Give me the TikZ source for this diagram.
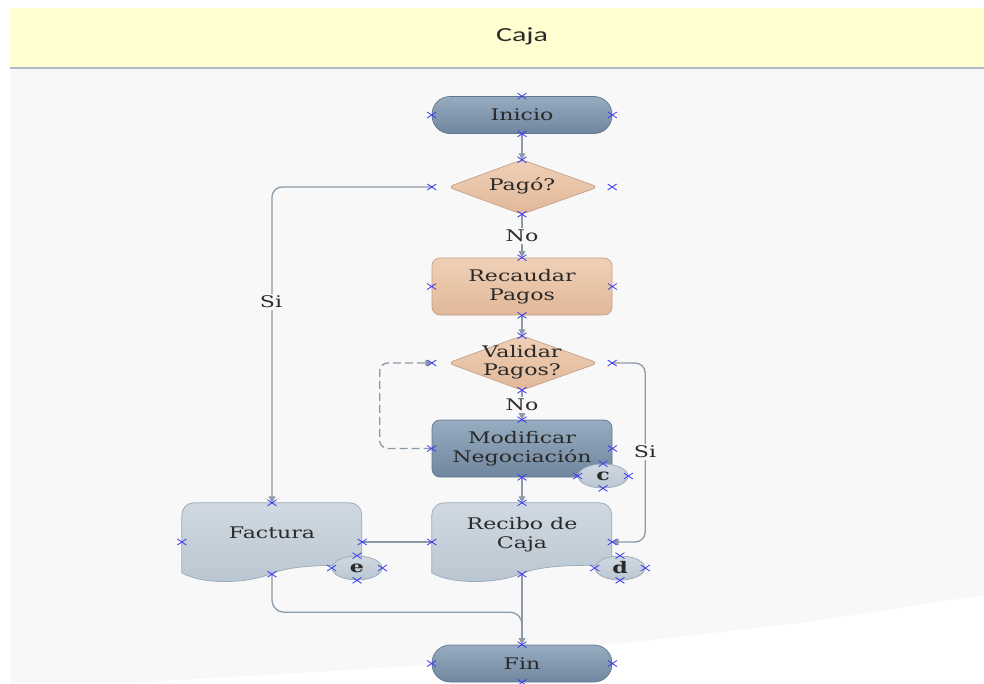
\documentclass[tikz,border=0pt]{standalone}
\usepackage{fontspec}
\usetikzlibrary{arrows.meta,shapes.geometric,calc}
\setmainfont{DejaVu Serif}
\newfontfamily\nf[FakeStretch=1.38]{DejaVu Serif}
\newfontfamily\hf[FakeStretch=1.5]{Carlito}
\definecolor{bggray}{HTML}{F8F8F8}
\definecolor{hdr}{HTML}{FFFFD2}
\definecolor{hdrline}{HTML}{AEB9C3}
\definecolor{txt}{HTML}{2A2A2A}
\definecolor{lnc}{HTML}{8C9AA8}
\definecolor{steelT}{HTML}{97ACC0}
\definecolor{steelD}{HTML}{6F879F}
\definecolor{steelB}{HTML}{5F768D}
\definecolor{peachT}{HTML}{EFD0B7}
\definecolor{peachD}{HTML}{E2B898}
\definecolor{peachB}{HTML}{C4A087}
\definecolor{docT}{HTML}{D0D9E1}
\definecolor{docD}{HTML}{B9C6D1}
\definecolor{docB}{HTML}{99A9B7}
\definecolor{mkc}{HTML}{3A3AF0}
\begin{document}
\begin{tikzpicture}[x=1pt,y=-1pt,
  every node/.style={text=txt},
  nfont/.style={font=\nf\fontsize{16}{18.5}\selectfont},
  term/.style={rectangle, rounded corners=18, minimum width=180, minimum height=37, draw=steelB, top color=steelT, bottom color=steelD, line width=0.7, inner sep=0, nfont},
  steelbox/.style={rectangle, rounded corners=8, minimum width=180, minimum height=57, draw=steelB, top color=steelT, bottom color=steelD, line width=0.7, inner sep=0, align=center, nfont},
  peachbox/.style={rectangle, rounded corners=8, minimum width=180, minimum height=57, draw=peachB, top color=peachT, bottom color=peachD, line width=0.7, inner sep=0, align=center, nfont},
  dbox/.style={rectangle, minimum width=180, minimum height=54, inner sep=0},
  docbox/.style={rectangle, minimum width=180, minimum height=78, inner sep=0},
  dshape/.style={draw=peachB, top color=peachT, bottom color=peachD, line width=0.7, rounded corners=6},
  docshape/.style={draw=docB, top color=docT, bottom color=docD, line width=0.7},
  conn/.style={ellipse, minimum width=50, minimum height=24, inner sep=0, draw=docB, top color=docT, bottom color=docD, line width=0.7, font=\nf\fontsize{16}{18}\selectfont\bfseries},
  lbl/.style={fill=bggray, inner sep=2, nfont},
  wire/.style={draw=lnc, line width=1.3},
  arr/.style={wire, -{Triangle[length=6.5,width=6.5]}},
  mk/.style={draw=mkc, line width=0.8}
]
\useasboundingbox (0,0) rectangle (984,683);
\fill[white] (0,0) rectangle (984,683);
\fill[bggray] (10,69) -- (984,69) -- (984,595) -- (800,623) -- (430,665) -- (130,683) -- (10,683) -- cycle;
\fill[hdr] (10,8) rectangle (984,67);
\draw[hdrline, line width=1.5] (10,68) -- (984,68);
\node[font=\hf\fontsize{20}{22}\selectfont] (title) at (522,36) {Caja};

% nodes
\node[term] (inicio) at (522,115) {Inicio};
\node[dbox] (pago) at (522,187) {};
\draw[dshape] (pago.north) -- ($(pago.west)+(16,0)$) -- (pago.south) -- ($(pago.east)+(-14,0)$) -- cycle;
\node[nfont] at (522,186) {Pagó?};
\node[peachbox] (recaudar) at (522,286.5) {Recaudar\\Pagos};
\node[dbox] (validar) at (522,363) {};
\draw[dshape] (validar.north) -- ($(validar.west)+(16,0)$) -- (validar.south) -- ($(validar.east)+(-14,0)$) -- cycle;
\node[nfont, align=center] at (522,362) {Validar\\Pagos?};
\node[steelbox] (modificar) at (522,448.5) {Modificar\\Negociación};
\node[conn] (c) at (603,476) {c};

\node[docbox] (recibo) at (522,542) {};
\begin{scope}[shift={(recibo.north west)}]
\draw[docshape] (0,70) [rounded corners=12] -- (0,0) -- (180,0) [sharp corners] -- (180,63) .. controls (150,62) and (110,62) .. (89,71) .. controls (65,81) and (20,82) .. (0,70) -- cycle;
\end{scope}
\node[nfont, align=center] at (522,534.5) {Recibo de\\Caja};
\node[conn] (d) at (620,568) {d};

\node[docbox] (factura) at (272,542) {};
\begin{scope}[shift={(factura.north west)}]
\draw[docshape] (0,70) [rounded corners=12] -- (0,0) -- (180,0) [sharp corners] -- (180,63) .. controls (150,62) and (110,62) .. (89,71) .. controls (65,81) and (20,82) .. (0,70) -- cycle;
\end{scope}
\node[nfont] at (272,533) {Factura};
\node[conn] (e) at (357,568) {e};

\node[term] (fin) at (522,663.5) {Fin};

% connectors
\draw[arr] (inicio.south) -- (pago.north);
\draw[arr] (pago.south) -- node[lbl] {No} (recaudar.north);
\draw[arr, rounded corners=10] (pago.west) -| (factura.north);
\node[lbl] at (271,302) {Si};
\draw[arr] (recaudar.south) -- (validar.north);
\draw[arr] (validar.south) -- node[lbl] {No} (modificar.north);
\draw[arr, dashed, dash pattern=on 8pt off 4pt, rounded corners=8] (modificar.west) -- ++(-52,0) |- (validar.west);
\draw[arr, rounded corners=10] (validar.east) -- ++(33,0) |- (recibo.east);
\node[lbl] at (645,452) {Si};
\draw[arr] (modificar.south) -- (recibo.north);
\draw[wire] (recibo.west) -- (factura.east);
\draw[wire, rounded corners=12] ($(factura.south)+(0,-7)$) -- ++(0,38) -| (fin.north);
\draw[arr] ($(recibo.south)+(0,-7)$) -- (fin.north);

% markers
\foreach \p in {inicio.north, inicio.south, inicio.west, inicio.east,
  pago.north, pago.south, pago.west, pago.east,
  recaudar.north, recaudar.south, recaudar.west, recaudar.east,
  validar.north, validar.south, validar.west, validar.east,
  modificar.north, modificar.south, modificar.west, modificar.east,
  c.north, c.south, c.west, c.east,
  recibo.north, recibo.west, recibo.east,
  d.north, d.south, d.west, d.east,
  factura.north, factura.west, factura.east,
  e.north, e.south, e.west, e.east,
  fin.north, fin.south, fin.west, fin.east}{
  \draw[mk] (\p) +(-4.5,-3) -- +(4.5,3) +(-4.5,3) -- +(4.5,-3);
}
\foreach \p in {recibo.south, factura.south}{
  \draw[mk] ($(\p)+(0,-7)$) +(-4.5,-3) -- +(4.5,3) +(-4.5,3) -- +(4.5,-3);
}
\end{tikzpicture}
\end{document}
